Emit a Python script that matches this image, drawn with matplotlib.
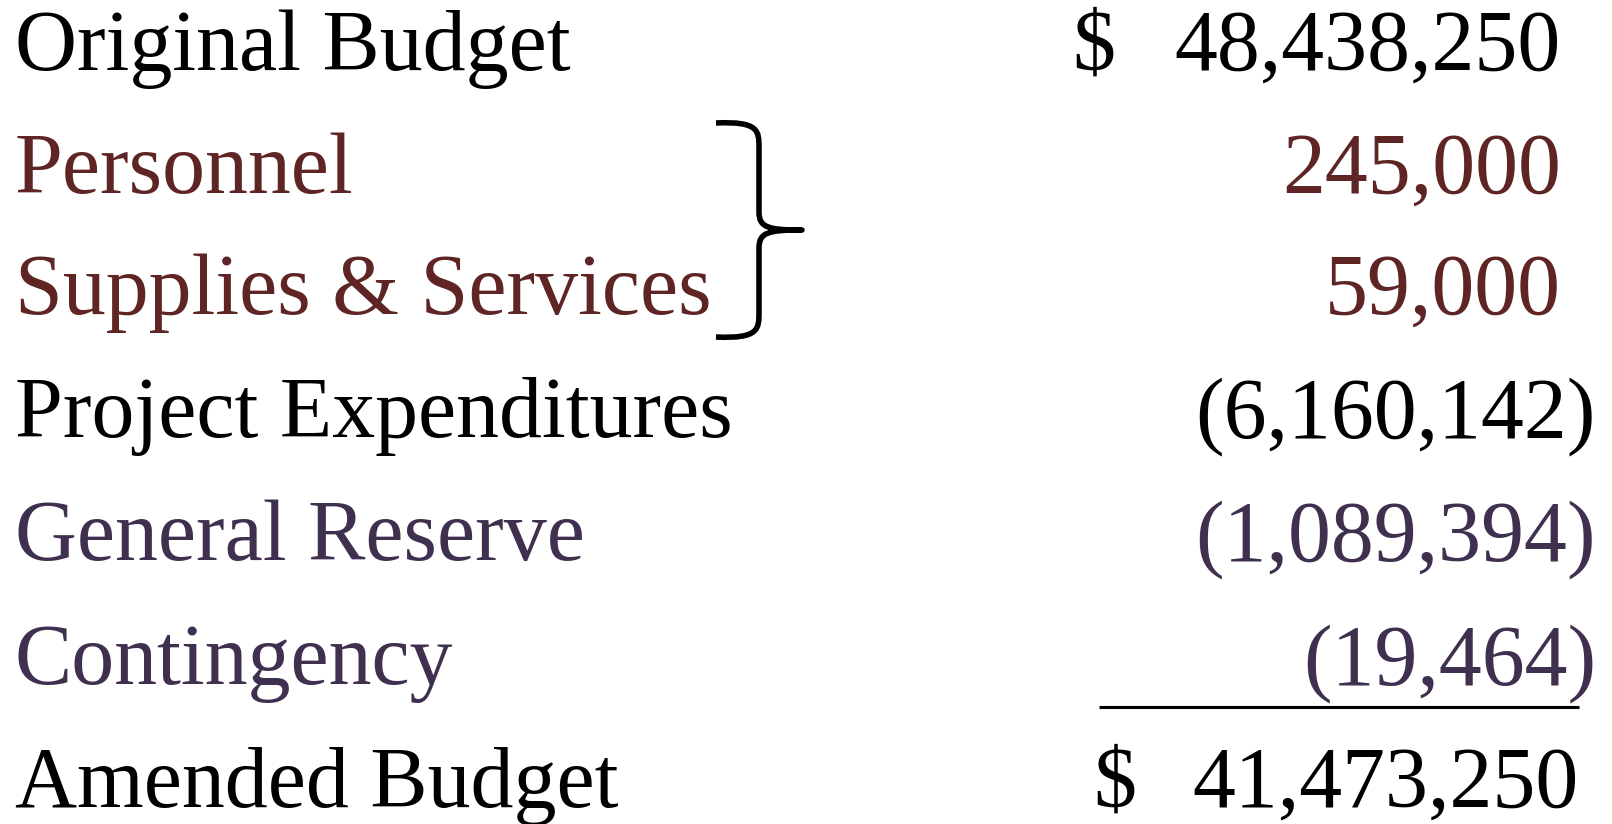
import matplotlib.pyplot as plt
from matplotlib.path import Path
from matplotlib.patches import PathPatch

# Budget rows
labels = ['Original Budget', 'Personnel', 'Supplies & Services', 'Project Expenditures',
          'General Reserve', 'Contingency', 'Amended Budget']
amounts = [48438250, 245000, 59000, -6160142, -1089394, -19464, 41473250]
show_dollar = [True, False, False, False, False, False, True]

BLACK = '#000000'
RED = '#5f2424'
PURPLE = '#40304f'
colors = [BLACK, RED, RED, BLACK, PURPLE, PURPLE, BLACK]

plt.rcParams['font.family'] = ['Liberation Serif', 'DejaVu Serif']

fig = plt.figure(figsize=(16.12, 8.24), dpi=100)
ax = fig.add_axes([0, 0, 1, 1])
ax.set_xlim(0, 1612)
ax.set_ylim(824, 0)
ax.axis('off')

fs = 61.8
baselines = [70, 193, 314, 437, 560, 684, 807]
num_right = [1561, 1561, 1561, 1596, 1596, 1596, 1579]
dollar_x = [1072, None, None, None, None, None, 1093]

for i, lab in enumerate(labels):
    y = baselines[i]
    ax.text(15, y, lab, fontsize=fs, color=colors[i], va='baseline', ha='left')
    v = amounts[i]
    s = f'{v:,}' if v >= 0 else f'({-v:,})'
    ax.text(num_right[i], y, s, fontsize=fs, color=colors[i], va='baseline', ha='right')
    if show_dollar[i]:
        ax.text(dollar_x[i], y, '$', fontsize=fs, color=colors[i], va='baseline', ha='left')

# total underline
ax.plot([1099, 1579], [707, 707], color='black', lw=2.2, solid_capstyle='butt')

# brace joining personnel and supplies
vx, tip, top, bot, mid, left = 759, 802, 123, 337, 230, 716
verts = [(left, top), (vx, top - 2), (vx, top + 8), (vx, top + 25),
         (vx, mid - 18),
         (vx, mid - 2), (vx + 10, mid), (tip, mid),
         (vx + 10, mid), (vx, mid + 2), (vx, mid + 18),
         (vx, bot - 25),
         (vx, bot - 8), (vx, bot + 2), (left, bot)]
codes = [Path.MOVETO, Path.CURVE4, Path.CURVE4, Path.CURVE4,
         Path.LINETO,
         Path.CURVE4, Path.CURVE4, Path.CURVE4,
         Path.CURVE4, Path.CURVE4, Path.CURVE4,
         Path.LINETO,
         Path.CURVE4, Path.CURVE4, Path.CURVE4]
ax.add_patch(PathPatch(Path(verts, codes), fill=False, lw=4, edgecolor='black',
                       capstyle='butt', joinstyle='round'))

plt.savefig('out.png', dpi=100)
